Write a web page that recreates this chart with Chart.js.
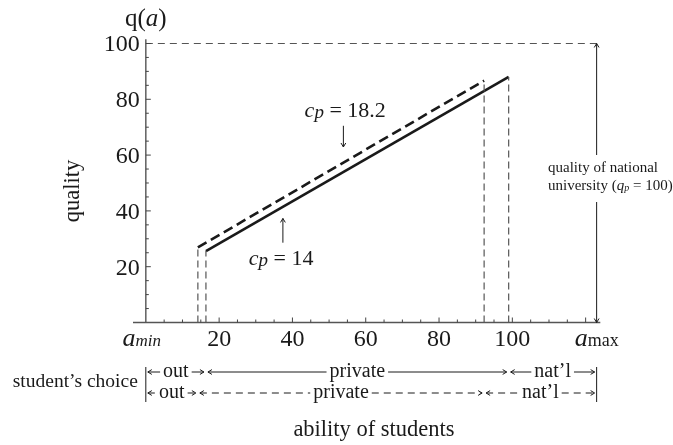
<!DOCTYPE html>
<html lang="en">
<head>
<meta charset="UTF-8">
<title>Quality and ability</title>
<script src="https://cdn.jsdelivr.net/npm/chart.js"></script>
<style>
    body { margin: 0; background: #fff; }
    canvas { display: block; }
</style>
</head>
<body>
<canvas id="grafico" width="673" height="445"></canvas>
<script>
    // valores
    const aMin = 0;
    const aMax = 123;
    const qNational = 100;
    const xTicks = [20, 40, 60, 80, 100];
    const yTicks = [20, 40, 60, 80, 100];
    const abilityCp14 = [16.4, 99];
    const qualityCp14 = [25.6, 88];
    const abilityCp182 = [14.2, 92.3];
    const qualityCp182 = [26.9, 86.7];
    const choiceLabels = ['out', 'private', 'nat\u2019l'];

    const SERIF = '"Liberation Serif", "DejaVu Serif", serif';
    const INK = '#1a1a1a';
    const GREY = '#555';

    function dropLine(x, y) {
        return {
            data: [{ x: x, y: 0 }, { x: x, y: y }],
            showLine: true, borderColor: GREY, borderWidth: 1.2, borderDash: [7, 4],
            pointRadius: 0, fill: false
        };
    }

    const datasets = [
        dropLine(abilityCp182[0], qualityCp182[0]),
        dropLine(abilityCp14[0], qualityCp14[0]),
        dropLine(abilityCp182[1], qualityCp182[1]),
        dropLine(abilityCp14[1], qualityCp14[1]),
        {
            data: [{ x: aMin, y: qNational }, { x: aMax, y: qNational }],
            showLine: true, borderColor: GREY, borderWidth: 1.2, borderDash: [7, 5],
            pointRadius: 0, fill: false
        },
        {
            label: 'cp = 14',
            data: abilityCp14.map((a, i) => ({ x: a, y: qualityCp14[i] })),
            showLine: true, borderColor: INK, borderWidth: 2.6, pointRadius: 0, fill: false
        },
        {
            label: 'cp = 18.2',
            data: abilityCp182.map((a, i) => ({ x: a, y: qualityCp182[i] })),
            showLine: true, borderColor: INK, borderWidth: 2.6, borderDash: [10, 5],
            pointRadius: 0, fill: false
        }
    ];

    // texto con partes de distinta fuente
    function drawRich(ctx, parts, x, y, align) {
        let total = 0;
        parts.forEach(p => { ctx.font = p.font; total += ctx.measureText(p.t).width; });
        let cx = align === 'center' ? x - total / 2 : (align === 'right' ? x - total : x);
        ctx.textAlign = 'left';
        ctx.textBaseline = 'alphabetic';
        parts.forEach(p => {
            ctx.font = p.font;
            ctx.fillText(p.t, cx, y + (p.dy || 0));
            cx += ctx.measureText(p.t).width;
        });
        return total;
    }

    function arrowHead(ctx, x, y, dir, size) {
        const s = size || 4;
        ctx.beginPath();
        if (dir === 'right') { ctx.moveTo(x - s, y - s * 0.6); ctx.lineTo(x, y); ctx.lineTo(x - s, y + s * 0.6); }
        if (dir === 'left') { ctx.moveTo(x + s, y - s * 0.6); ctx.lineTo(x, y); ctx.lineTo(x + s, y + s * 0.6); }
        if (dir === 'up') { ctx.moveTo(x - s * 0.6, y + s); ctx.lineTo(x, y); ctx.lineTo(x + s * 0.6, y + s); }
        if (dir === 'down') { ctx.moveTo(x - s * 0.6, y - s); ctx.lineTo(x, y); ctx.lineTo(x + s * 0.6, y - s); }
        ctx.stroke();
    }

    function vArrow(ctx, x, y1, y2, dir) {
        ctx.beginPath();
        ctx.moveTo(x, y1);
        ctx.lineTo(x, y2);
        ctx.stroke();
        arrowHead(ctx, x, dir === 'up' ? Math.min(y1, y2) : Math.max(y1, y2), dir, 4);
    }

    function hArrow(ctx, x1, x2, y, dir, dashed) {
        ctx.save();
        if (dashed) ctx.setLineDash([7, 5]);
        ctx.beginPath();
        ctx.moveTo(x1, y);
        ctx.lineTo(x2, y);
        ctx.stroke();
        ctx.restore();
        arrowHead(ctx, dir === 'right' ? x2 : x1, y, dir, 4);
    }

    const decor = {
        id: 'decor',
        afterDatasetsDraw(chart) {
            const ctx = chart.ctx;
            const xs = chart.scales.x, ys = chart.scales.y;
            const area = chart.chartArea;
            const X = v => xs.getPixelForValue(v);
            const Y = v => ys.getPixelForValue(v);
            const x0 = X(aMin), y0 = Y(0);

            ctx.save();
            // ejes
            ctx.strokeStyle = GREY;
            ctx.lineWidth = 1.4;
            ctx.beginPath();
            ctx.moveTo(area.left, y0); ctx.lineTo(area.right, y0);
            ctx.moveTo(x0, y0); ctx.lineTo(x0, area.top);
            ctx.stroke();

            ctx.lineWidth = 1;
            ctx.strokeStyle = '#444';
            ctx.beginPath();
            for (let v = 5; v <= 120; v += 5) {
                const len = v % 20 === 0 ? 5 : 3;
                ctx.moveTo(X(v), y0); ctx.lineTo(X(v), y0 - len);
            }
            for (let v = 5; v <= 100; v += 5) {
                const len = v % 20 === 0 ? 5 : 3;
                ctx.moveTo(x0, Y(v)); ctx.lineTo(x0 + len, Y(v));
            }
            ctx.stroke();

            // etiquetas de ticks
            ctx.fillStyle = INK;
            ctx.font = '24px ' + SERIF;
            ctx.textBaseline = 'alphabetic';
            ctx.textAlign = 'center';
            xTicks.forEach(v => ctx.fillText(String(v), X(v), y0 + 23));
            ctx.textAlign = 'right';
            yTicks.forEach(v => ctx.fillText(String(v), x0 - 6, Y(v) + 8));

            drawRich(ctx, [
                { t: 'a', font: 'italic 26px ' + SERIF },
                { t: 'min', font: 'italic 17px ' + SERIF }
            ], X(aMin) - 4, y0 + 23, 'center');
            drawRich(ctx, [
                { t: 'a', font: 'italic 26px ' + SERIF },
                { t: 'max', font: '18px ' + SERIF }
            ], X(aMax), y0 + 23, 'center');

            // titulo eje y
            drawRich(ctx, [
                { t: 'q(', font: '25px ' + SERIF },
                { t: 'a', font: 'italic 25px ' + SERIF },
                { t: ')', font: '25px ' + SERIF }
            ], x0, 26, 'center');

            ctx.save();
            ctx.translate(73, 191);
            ctx.rotate(-Math.PI / 2);
            ctx.font = '22.5px ' + SERIF;
            ctx.textAlign = 'center';
            ctx.textBaseline = 'middle';
            ctx.fillText('quality', 0, 0);
            ctx.restore();

            // anotaciones cp
            ctx.strokeStyle = INK;
            ctx.lineWidth = 1;
            const cpParts = val => [
                { t: 'c', font: 'italic 22px ' + SERIF },
                { t: 'p', font: 'italic 19px ' + SERIF, dy: 1 },
                { t: ' = ' + val, font: '22px ' + SERIF }
            ];
            drawRich(ctx, cpParts('18.2'), X(54.4), Y(76.2) + 7, 'center');
            vArrow(ctx, X(53.9), Y(70.5), Y(62.9), 'down');
            drawRich(ctx, cpParts('14'), X(36.9), Y(23.1) + 7, 'center');
            vArrow(ctx, X(37.4), Y(37.3), Y(28.6), 'up');

            // universidad nacional
            const ax = X(aMax);
            vArrow(ctx, ax, Y(qNational), 155, 'up');
            vArrow(ctx, ax, 202, y0, 'down');
            ctx.fillStyle = INK;
            drawRich(ctx, [{ t: 'quality of national', font: '15px ' + SERIF }], 548, 172, 'left');
            drawRich(ctx, [
                { t: 'university (', font: '15px ' + SERIF },
                { t: 'q', font: 'italic 15px ' + SERIF },
                { t: 'p', font: 'italic 10px ' + SERIF, dy: 1 },
                { t: ' = ' + qNational + ')', font: '15px ' + SERIF }
            ], 548, 190, 'left');

            // eleccion de los estudiantes
            const rows = [
                { cuts: [aMin, abilityCp14[0], abilityCp14[1], aMax], y: 372, dashed: false },
                { cuts: [aMin, abilityCp182[0], abilityCp182[1], aMax], y: 393, dashed: true }
            ];
            ctx.lineWidth = 1;
            ctx.beginPath();
            ctx.moveTo(X(aMin), 367); ctx.lineTo(X(aMin), 402);
            ctx.moveTo(X(aMax), 367); ctx.lineTo(X(aMax), 402);
            ctx.stroke();
            rows.forEach(r => {
                for (let i = 0; i < 3; i++) {
                    const a = X(r.cuts[i]) + 2, b = X(r.cuts[i + 1]) - 2;
                    const mid = (a + b) / 2;
                    ctx.font = '20px ' + SERIF;
                    const w = ctx.measureText(choiceLabels[i]).width;
                    ctx.textAlign = 'center';
                    ctx.textBaseline = 'middle';
                    ctx.fillText(choiceLabels[i], mid, r.y);
                    hArrow(ctx, a, mid - w / 2 - 3, r.y, 'left', r.dashed);
                    hArrow(ctx, mid + w / 2 + 3, b, r.y, 'right', r.dashed);
                }
            });
            ctx.font = '19.5px ' + SERIF;
            ctx.textAlign = 'right';
            ctx.textBaseline = 'middle';
            ctx.fillText('student\u2019s choice', X(aMin) - 8, 382);

            ctx.font = '22.5px ' + SERIF;
            ctx.textAlign = 'center';
            ctx.fillText('ability of students', 374, 430);
            ctx.restore();
        }
    };

    new Chart(document.getElementById('grafico').getContext('2d'), {
        type: 'scatter',
        data: { datasets: datasets },
        options: {
            responsive: false,
            animation: false,
            devicePixelRatio: 1,
            layout: { padding: { left: 133, right: 72.7, top: 39.3, bottom: 122.5 } },
            plugins: { legend: { display: false }, tooltip: { enabled: false } },
            scales: {
                x: { type: 'linear', min: -3.5, max: 124, display: false },
                y: { type: 'linear', min: 0, max: 101.5, display: false }
            }
        },
        plugins: [decor]
    });
</script>
</body>
</html>
